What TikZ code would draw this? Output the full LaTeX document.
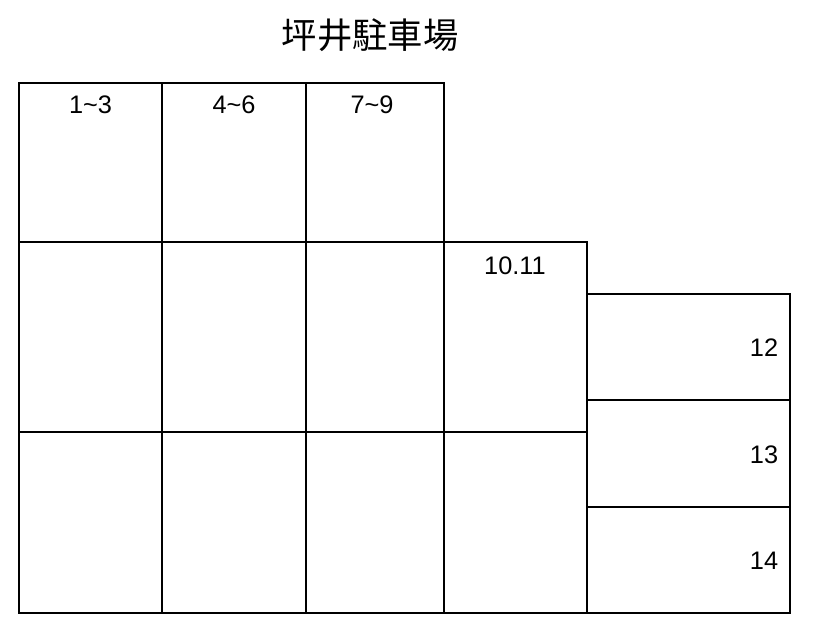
\documentclass[tikz,border=0pt]{standalone}
\usepackage{fontspec}
\setmainfont{Liberation Sans}
\newfontfamily\cjk{Noto Sans CJK JP}
\begin{document}
\begin{tikzpicture}[x=0.75pt,y=-0.75pt,
  thickline/.style={line width=1.9pt},
  thinline/.style={line width=1pt},
  lbl/.style={font=\fontsize{19}{22}\selectfont, inner sep=0pt, anchor=center},
  ttl/.style={font=\cjk\fontsize{26.5}{30}\selectfont, inner sep=0pt, anchor=center}]
\useasboundingbox (0,0) rectangle (829,631);
\fill[white] (0,0) rectangle (829,631);
% title
\node[ttl] (title) at (370,35) {坪井駐車場};
% thin horizontal dividers
\draw[thinline] (19,242) -- (444,242);
\draw[thinline] (19,432) -- (587,432);
% main block outline and columns
\draw[thickline] (19,83) rectangle (444,613);
\draw[thickline] (162,83) -- (162,613);
\draw[thickline] (306,83) -- (306,613);
% 10.11 column
\draw[thickline] (444,242) rectangle (587,613);
% right boxes
\draw[thickline] (587,294) rectangle (790,613);
\draw[thickline] (587,400) -- (790,400);
\draw[thickline] (587,507) -- (790,507);
% labels
\node[lbl] (l1) at (90.5,105) {1\textasciitilde 3};
\node[lbl] (l2) at (234,105) {4\textasciitilde 6};
\node[lbl] (l3) at (372,105) {7\textasciitilde 9};
\node[lbl] (l4) at (515,266) {10.11};
\node[lbl] (l5) at (764,348) {12};
\node[lbl] (l6) at (764,455) {13};
\node[lbl] (l7) at (764,561) {14};
\end{tikzpicture}
\end{document}
